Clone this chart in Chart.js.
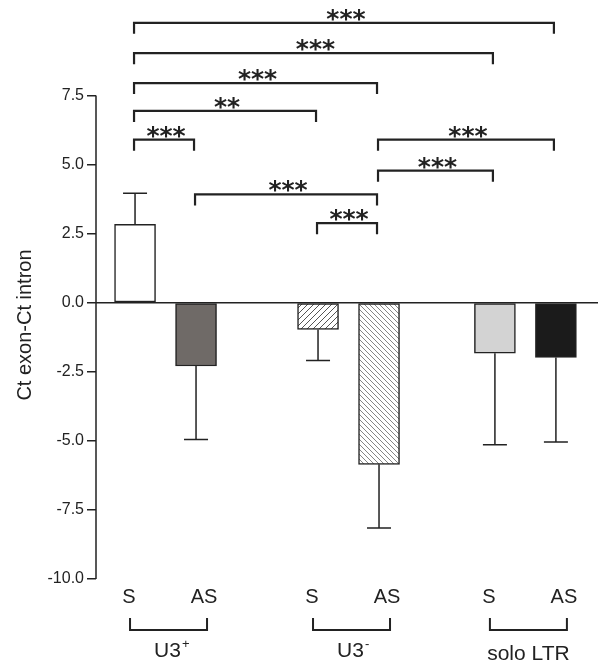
<!DOCTYPE html>
<html>
<head>
<meta charset="utf-8">
<script src="https://cdn.jsdelivr.net/npm/chart.js@4.4.0/dist/chart.umd.min.js"></script>
<style>
html, body { margin: 0; padding: 0; background: #fff; }
#wrap { width: 600px; height: 665px; }
</style>
</head>
<body>
<div id="wrap"><canvas id="chart" width="600" height="665"></canvas></div>
<script>
const barLabels = ['S', 'AS', 'S', 'AS', 'S', 'AS'];
const barSlots = [1, 2, 4, 5, 6.9, 7.9];
const meanValues = [2.84, -2.29, -0.97, -5.85, -1.83, -1.98];
const errValues = [1.12, 2.66, 1.12, 2.30, 3.31, 3.06];
const groupNames = ['U3', 'U3', 'solo LTR'];
const groupSup = ['+', '-', ''];
const groupBars = [[0, 1], [2, 3], [4, 5]];
const yTicks = [-10, -7.5, -5, -2.5, 0, 2.5, 5, 7.5];

// significance brackets: from bar, to bar, height (y units), stars
const sigFrom = [0, 0, 0, 0, 0, 3, 3, 1, 2];
const sigTo = [5, 4, 3, 2, 1, 5, 4, 3, 3];
const sigLevel = [10.13, 9.03, 7.95, 6.94, 5.90, 5.90, 4.78, 3.92, 2.88];
const sigStars = ['***', '***', '***', '**', '***', '***', '***', '***', '***'];

const ink = '#222';
const sans = '"Liberation Sans", Arial, sans-serif';

function hatch(size, dir, color, lw) {
    const c = document.createElement('canvas');
    c.width = size; c.height = size;
    const g = c.getContext('2d');
    g.fillStyle = '#fff';
    g.fillRect(0, 0, size, size);
    g.strokeStyle = color;
    g.lineWidth = lw;
    g.beginPath();
    if (dir > 0) {
        g.moveTo(-1, size + 1); g.lineTo(size + 1, -1);
        g.moveTo(-1, 1); g.lineTo(1, -1);
        g.moveTo(size - 1, size + 1); g.lineTo(size + 1, size - 1);
    } else {
        g.moveTo(-1, -1); g.lineTo(size + 1, size + 1);
        g.moveTo(size - 1, -1); g.lineTo(size + 1, 1);
        g.moveTo(-1, size - 1); g.lineTo(1, size + 1);
    }
    g.stroke();
    return g.createPattern(c, 'repeat');
}

const ctx = document.getElementById('chart').getContext('2d');
const barFills = ['#ffffff', '#6f6a67', hatch(6, 1, '#555', 1), hatch(5, -1, '#777', 0.9), '#d3d3d3', '#1b1b1b'];

// axis line, zero line, error bars, brackets and bottom labels
const extras = {
    id: 'extras',
    afterDatasetsDraw(chart) {
        const c = chart.ctx;
        const xs = chart.scales.x, ys = chart.scales.y;
        const area = chart.chartArea;
        c.save();
        c.strokeStyle = ink;
        c.fillStyle = ink;

        c.lineWidth = 1.5;
        c.beginPath();
        c.moveTo(area.left, ys.getPixelForValue(yTicks[yTicks.length - 1]));
        c.lineTo(area.left, ys.getPixelForValue(yTicks[0]));
        c.moveTo(area.left, ys.getPixelForValue(0));
        c.lineTo(area.right, ys.getPixelForValue(0));
        c.stroke();

        // error bars, away from zero
        meanValues.forEach((v, i) => {
            const x = xs.getPixelForValue(barSlots[i]);
            const tip = v + Math.sign(v) * errValues[i];
            const y0 = ys.getPixelForValue(v), y1 = ys.getPixelForValue(tip);
            c.beginPath();
            c.moveTo(x, y0); c.lineTo(x, y1);
            c.moveTo(x - 12, y1); c.lineTo(x + 12, y1);
            c.stroke();
        });

        // significance brackets
        c.lineWidth = 2.2;
        c.font = 'bold 25px "DejaVu Sans", sans-serif';
        c.textAlign = 'center';
        c.textBaseline = 'alphabetic';
        sigLevel.forEach((lvl, k) => {
            const xa = xs.getPixelForValue(barSlots[sigFrom[k]]) - 1;
            const xb = xs.getPixelForValue(barSlots[sigTo[k]]) - 2;
            const y = ys.getPixelForValue(lvl);
            c.beginPath();
            c.moveTo(xa, y + 11); c.lineTo(xa, y); c.lineTo(xb, y); c.lineTo(xb, y + 11);
            c.stroke();
            c.fillText(sigStars[k], (xa + xb) / 2 + 2, y + 4);
        });

        // S / AS labels and group brackets
        c.font = '20px ' + sans;
        c.textBaseline = 'middle';
        barLabels.forEach((lab, i) => {
            const off = lab === 'S' ? -6 : 8;
            c.fillText(lab, xs.getPixelForValue(barSlots[i]) + off, 597);
        });
        c.lineWidth = 2;
        groupBars.forEach((pair, g) => {
            const xa = xs.getPixelForValue(barSlots[pair[0]]) - 5;
            const xb = xs.getPixelForValue(barSlots[pair[1]]) + 11;
            c.beginPath();
            c.moveTo(xa, 618); c.lineTo(xa, 630); c.lineTo(xb, 630); c.lineTo(xb, 618);
            c.stroke();
            const mid = (xa + xb) / 2;
            c.textBaseline = 'alphabetic';
            c.font = '21px ' + sans;
            if (groupSup[g]) {
                const w = c.measureText(groupNames[g]).width;
                c.textAlign = 'left';
                c.fillText(groupNames[g], mid - w / 2 - 1, 657);
                c.font = '13px ' + sans;
                c.fillText(groupSup[g], mid + w / 2, 648);
                c.textAlign = 'center';
            } else {
                c.fillText(groupNames[g], mid, 660);
            }
        });

        // y axis title
        c.font = '20px ' + sans;
        c.textBaseline = 'middle';
        c.translate(25, 325);
        c.rotate(-Math.PI / 2);
        c.fillText('Ct exon-Ct intron', 0, 0);
        c.restore();
    }
};

new Chart(ctx, {
    type: 'bar',
    data: {
        datasets: [{
            data: barSlots.map((x, i) => ({ x: x, y: meanValues[i] })),
            backgroundColor: barFills,
            borderColor: ink,
            borderWidth: 1.5,
            borderSkipped: false,
            barThickness: 41
        }]
    },
    options: {
        responsive: false,
        animation: false,
        layout: { padding: { top: 10, right: 2, bottom: 86, left: 0 } },
        plugins: {
            legend: { display: false },
            tooltip: { enabled: false }
        },
        scales: {
            x: { type: 'linear', min: 0.36, max: 8.59, offset: false, display: false },
            y: {
                min: -10,
                max: 10.5,
                afterFit: s => { s.width = 96; },
                afterBuildTicks: s => { s.ticks = yTicks.map(v => ({ value: v })); },
                ticks: {
                    callback: v => v.toFixed(1),
                    font: { family: sans, size: 16 },
                    color: ink,
                    padding: 3
                },
                grid: { drawOnChartArea: false, tickLength: 9, color: ink, lineWidth: 1.5 },
                border: { display: false }
            }
        }
    },
    plugins: [extras]
});
</script>
</body>
</html>
